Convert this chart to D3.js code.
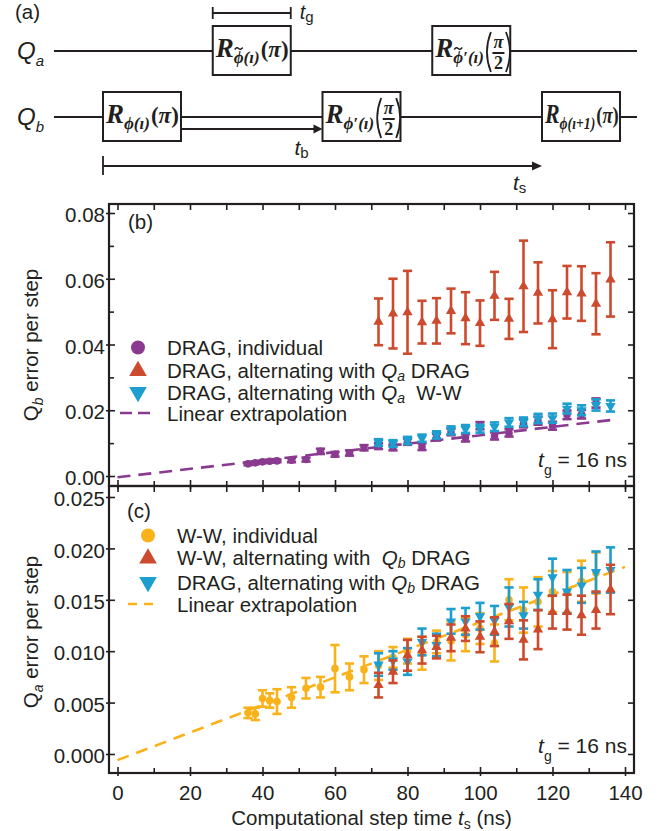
<!DOCTYPE html>
<html>
<head>
<meta charset="utf-8">
<script src="https://cdn.jsdelivr.net/npm/d3@7"></script>
<style>
  body { margin: 0; background: #fff; }
  svg { display: block; background: #fff; }
</style>
</head>
<body>
<svg id="fig" width="670" height="831"></svg>
<script>
// ---------------- data ----------------
// computational step times (ns)
const stepIndividual  = [36, 38, 40, 42, 44, 48, 52, 56, 60, 64, 68, 72, 76, 80, 84, 88, 92, 96, 100, 104, 108, 112, 116, 120, 124, 128, 132];
const stepAlternating = [72, 76, 80, 84, 88, 92, 96, 100, 104, 108, 112, 116, 120, 124, 128, 132, 136];

// (b) Q_b error per step
const qbDragIndividual    = [0.0037, 0.0040, 0.0043, 0.0045, 0.0046, 0.0048, 0.0050, 0.0075, 0.0066, 0.0070, 0.0086, 0.0091, 0.0087, 0.0104, 0.0089, 0.0118, 0.0134, 0.0116, 0.0153, 0.0122, 0.0131, 0.0160, 0.0168, 0.0153, 0.0186, 0.0188, 0.0222];
const qbDragIndividualErr = [0.0004, 0.0004, 0.0004, 0.0004, 0.0004, 0.0006, 0.0006, 0.0008, 0.0007, 0.0008, 0.0008, 0.0009, 0.0009, 0.0009, 0.0010, 0.0010, 0.0010, 0.0011, 0.0011, 0.0011, 0.0011, 0.0012, 0.0012, 0.0012, 0.0013, 0.0013, 0.0014];
const qbAltQaDrag    = [0.0469, 0.0494, 0.0498, 0.0468, 0.0472, 0.0502, 0.0480, 0.0465, 0.0548, 0.0478, 0.0577, 0.0557, 0.0477, 0.0559, 0.0555, 0.0524, 0.0598];
const qbAltQaDragErr = [0.0071, 0.0106, 0.0126, 0.0065, 0.0069, 0.0068, 0.0079, 0.0069, 0.0073, 0.0061, 0.0139, 0.0093, 0.0088, 0.0080, 0.0083, 0.0093, 0.0113];
const qbAltQaWW      = [0.0102, 0.0099, 0.0108, 0.0115, 0.0125, 0.0139, 0.0143, 0.0144, 0.0150, 0.0163, 0.0165, 0.0175, 0.0176, 0.0205, 0.0200, 0.0216, 0.0213];
const qbAltQaWWErr   = [0.0010, 0.0010, 0.0011, 0.0011, 0.0011, 0.0012, 0.0012, 0.0012, 0.0013, 0.0013, 0.0013, 0.0014, 0.0014, 0.0015, 0.0015, 0.0017, 0.0017];
const qbFitStep  = [0, 136];
const qbFitValue = [-0.0004, 0.0170];

// (c) Q_a error per step
const qaWWIndividual    = [0.0040, 0.0039, 0.0054, 0.0052, 0.0051, 0.0055, 0.0064, 0.0065, 0.0083, 0.0075, 0.0082, 0.0086, 0.0094, 0.0100, 0.0098, 0.0109, 0.0110, 0.0116, 0.0122, 0.0108, 0.0150, 0.0140, 0.0148, 0.0158, 0.0157, 0.0168, 0.0176];
const qaWWIndividualErr = [0.0005, 0.0006, 0.0008, 0.0007, 0.0012, 0.0010, 0.0010, 0.0010, 0.0023, 0.0013, 0.0013, 0.0014, 0.0010, 0.0012, 0.0016, 0.0011, 0.0019, 0.0016, 0.0015, 0.0018, 0.0020, 0.0022, 0.0024, 0.0020, 0.0020, 0.0020, 0.0020];
const qaWWAltQbDrag      = [0.0067, 0.0080, 0.0096, 0.0101, 0.0104, 0.0113, 0.0122, 0.0114, 0.0119, 0.0129, 0.0111, 0.0121, 0.0138, 0.0138, 0.0135, 0.0140, 0.0160];
const qaWWAltQbDragErr   = [0.0012, 0.0011, 0.0015, 0.0013, 0.0011, 0.0013, 0.0012, 0.0015, 0.0014, 0.0017, 0.0019, 0.0019, 0.0016, 0.0017, 0.0019, 0.0018, 0.0024];
const qaDragAltQbDrag    = [0.0087, 0.0091, 0.0090, 0.0109, 0.0106, 0.0129, 0.0129, 0.0134, 0.0130, 0.0143, 0.0135, 0.0155, 0.0172, 0.0158, 0.0164, 0.0177, 0.0179];
const qaDragAltQbDragErr = [0.0011, 0.0009, 0.0013, 0.0013, 0.0011, 0.0012, 0.0013, 0.0013, 0.0014, 0.0019, 0.0013, 0.0015, 0.0018, 0.0021, 0.0017, 0.0020, 0.0022];
const qaFitStep  = [0, 140];
const qaFitValue = [-0.0006, 0.0182];

// axis ticks
const xMajorTicks = [0, 20, 40, 60, 80, 100, 120, 140];
const xMinorTicks = [10, 30, 50, 70, 90, 110, 130];
const yTicksB      = [0, 0.02, 0.04, 0.06, 0.08];
const yMinorTicksB = [0.01, 0.03, 0.05, 0.07];
const yTicksC      = [0, 0.005, 0.01, 0.015, 0.02, 0.025];

// pulse sequence of panel (a): gate slots on each qubit line
const gateWire  = ["b", "a", "b", "a", "b"];
const gateSlot  = [0, 1, 2, 3, 4];
const gateSub   = ["\u03D5(\u0131)", "\u03D5(\u0131)", "\u03D5\u2032(\u0131)", "\u03D5\u2032(\u0131)", "\u03D5(\u0131+1)"];
const gateTilde = [false, true, false, true, false];
const gateAngle = ["pi", "pi", "half", "half", "pi"];

// ---------------- drawing ----------------
const INK = "#231f20";
const PURPLE = "#8b3b8f", RED = "#cc4a2d", BLUE = "#1c9ece", YELLOW = "#fab21a";
const SANS = '"Liberation Sans", Arial, Helvetica, sans-serif';
const SERIF = '"Liberation Serif", "Times New Roman", serif';
const svg = d3.select("#fig");

const PLOT_L = 109, PLOT_R = 634;
const panelB = { top: 204, bottom: 486 };
const panelC = { top: 486, bottom: 773 };

const x  = d3.scaleLinear().domain([-2.345, 142.48]).range([PLOT_L, PLOT_R]);
const yB = d3.scaleLinear().domain([-0.00304, 0.08274]).range([panelB.bottom, panelB.top]);
const yC = d3.scaleLinear().domain([-0.00185, 0.02607]).range([panelC.bottom, panelC.top]);

// text with italic / subscript runs
function rich(parent, px, py, parts, size, anchor) {
  const t = parent.append("text").attr("x", px).attr("y", py)
    .attr("fill", INK).style("font-family", SANS).style("font-size", size + "px")
    .attr("text-anchor", anchor || "start");
  let shift = 0;
  parts.forEach(p => {
    const s = t.append("tspan").text(p.t);
    const target = p.sub ? p.sub : 0;
    if (target !== shift) { s.attr("dy", target - shift); shift = target; }
    if (p.sub) s.style("font-size", (p.size || Math.round(size * 0.66)) + "px");
    if (p.it) s.style("font-style", "italic");
  });
  return t;
}

function styleAxis(sel) {
  sel.select(".domain").remove();
  sel.selectAll("line").attr("stroke", INK).attr("stroke-width", 1.6);
  sel.selectAll("text").attr("fill", INK).style("font-family", SANS).style("font-size", "20.5px");
}

function drawFrame(panel, y, yMajor, yMinor, yFmt, xLabels) {
  const g = svg.append("g");
  // left: labelled inward ticks + short outward stubs
  g.append("g").attr("transform", `translate(${PLOT_L},0)`)
    .call(d3.axisLeft(y).tickValues(yMajor).tickFormat(yFmt).tickSizeInner(-6).tickSizeOuter(0).tickPadding(4))
    .call(styleAxis).selectAll("text").attr("dy", "0.42em");
  g.append("g").attr("transform", `translate(${PLOT_L},0)`)
    .call(d3.axisLeft(y).tickValues(yMajor).tickFormat("").tickSizeInner(3).tickSizeOuter(0)).call(styleAxis);
  if (yMinor.length) {
    g.append("g").attr("transform", `translate(${PLOT_L},0)`)
      .call(d3.axisLeft(y).tickValues(yMinor).tickFormat("").tickSizeInner(-5).tickSizeOuter(0)).call(styleAxis);
  }
  // right
  g.append("g").attr("transform", `translate(${PLOT_R},0)`)
    .call(d3.axisRight(y).tickValues(yMajor.concat(yMinor)).tickFormat("").tickSizeInner(-6).tickSizeOuter(0)).call(styleAxis);
  // top
  g.append("g").attr("transform", `translate(0,${panel.top})`)
    .call(d3.axisTop(x).tickValues(xMajorTicks.concat(xMinorTicks)).tickFormat("").tickSizeInner(-6).tickSizeOuter(0)).call(styleAxis);
  // bottom
  g.append("g").attr("transform", `translate(0,${panel.bottom})`)
    .call(d3.axisBottom(x).tickValues(xMajorTicks).tickFormat(xLabels ? d3.format("d") : "").tickSizeInner(-6).tickSizeOuter(0).tickPadding(12))
    .call(styleAxis);
  g.append("g").attr("transform", `translate(0,${panel.bottom})`)
    .call(d3.axisBottom(x).tickValues(xMajorTicks).tickFormat("").tickSizeInner(3).tickSizeOuter(0)).call(styleAxis);
  g.append("g").attr("transform", `translate(0,${panel.bottom})`)
    .call(d3.axisBottom(x).tickValues(xMinorTicks).tickFormat("").tickSizeInner(-5).tickSizeOuter(0)).call(styleAxis);
  g.append("rect").attr("x", PLOT_L).attr("y", panel.top)
    .attr("width", PLOT_R - PLOT_L).attr("height", panel.bottom - panel.top)
    .attr("fill", "none").attr("stroke", INK).attr("stroke-width", 2.2);
}

const triUp = d3.symbol().type(d3.symbolTriangle);

function errorSeries(y, steps, vals, errs, color, shape) {
  const rows = d3.zip(steps, vals, errs);
  const g = svg.append("g").attr("stroke", color).attr("fill", color);
  const pt = g.selectAll("g").data(rows).join("g");
  const cap = 4.6;
  pt.append("line").attr("x1", d => x(d[0])).attr("x2", d => x(d[0]))
    .attr("y1", d => y(d[1] - d[2])).attr("y2", d => y(d[1] + d[2])).attr("stroke-width", 2.6);
  [-1, 1].forEach(sgn => {
    pt.append("line").attr("x1", d => x(d[0]) - cap).attr("x2", d => x(d[0]) + cap)
      .attr("y1", d => y(d[1] + sgn * d[2])).attr("y2", d => y(d[1] + sgn * d[2])).attr("stroke-width", 2.6);
  });
  if (shape === "circle") {
    pt.append("circle").attr("cx", d => x(d[0])).attr("cy", d => y(d[1])).attr("r", 3.8).attr("stroke", "none");
  } else {
    pt.append("path").attr("d", triUp.size(46)()).attr("stroke", "none")
      .attr("transform", d => `translate(${x(d[0])},${y(d[1])})` + (shape === "down" ? " rotate(180)" : ""));
  }
}

function fitLine(y, steps, vals, color, dash) {
  svg.append("path").datum(d3.zip(steps, vals))
    .attr("d", d3.line().x(d => x(d[0])).y(d => y(d[1])))
    .attr("fill", "none").attr("stroke", color).attr("stroke-width", 2.6).attr("stroke-dasharray", dash);
}

function legendMarker(mx, my, shape, color) {
  if (shape === "circle") {
    svg.append("circle").attr("cx", mx).attr("cy", my).attr("r", 7).attr("fill", color);
  } else {
    svg.append("path").attr("d", triUp.size(135)()).attr("fill", color)
      .attr("transform", `translate(${mx},${my})` + (shape === "down" ? " rotate(180)" : ""));
  }
}

// ---- panel (b) ----
drawFrame(panelB, yB, yTicksB, yMinorTicksB, d3.format(".2f"), false);
fitLine(yB, qbFitStep, qbFitValue, PURPLE, "13,8");
errorSeries(yB, stepAlternating, qbAltQaDrag, qbAltQaDragErr, RED, "up");
errorSeries(yB, stepIndividual, qbDragIndividual, qbDragIndividualErr, PURPLE, "circle");
errorSeries(yB, stepAlternating, qbAltQaWW, qbAltQaWWErr, BLUE, "down");

rich(svg, 128, 229, [{ t: "(b)" }], 20.5);
legendMarker(138, 347.5, "circle", PURPLE);
legendMarker(138, 371, "up", RED);
legendMarker(138, 392, "down", BLUE);
svg.append("line").attr("x1", 120).attr("x2", 150).attr("y1", 413).attr("y2", 413)
  .attr("stroke", PURPLE).attr("stroke-width", 2.6).attr("stroke-dasharray", "12,6");
rich(svg, 167, 355, [{ t: "DRAG, individual" }], 20.5);
rich(svg, 167, 378, [{ t: "DRAG, alternating with " }, { t: "Q", it: true }, { t: "a", it: true, sub: 3, size: 14 }, { t: " DRAG" }], 20.5);
rich(svg, 167, 400, [{ t: "DRAG, alternating with " }, { t: "Q", it: true }, { t: "a", it: true, sub: 3, size: 14 }, { t: "\u00a0 W-W" }], 20.5);
rich(svg, 167, 421, [{ t: "Linear extrapolation" }], 20.5);
rich(svg, 627, 467, [{ t: "t", it: true }, { t: "g", sub: 8, size: 14 }, { t: " = 16 ns" }], 21, "end");

const yTitleB = svg.append("g").attr("transform", "translate(38,345) rotate(-90)");
rich(yTitleB, 0, 0, [{ t: "Q" }, { t: "b", it: true, sub: 5 }, { t: " error per step" }], 20.5, "middle");

// ---- panel (c) ----
drawFrame(panelC, yC, yTicksC, [], d3.format(".3f"), true);
errorSeries(yC, stepIndividual, qaWWIndividual, qaWWIndividualErr, YELLOW, "circle");
fitLine(yC, qaFitStep, qaFitValue, YELLOW, "12,8");
errorSeries(yC, stepAlternating, qaDragAltQbDrag, qaDragAltQbDragErr, BLUE, "down");
errorSeries(yC, stepAlternating, qaWWAltQbDrag, qaWWAltQbDragErr, RED, "up");

rich(svg, 127, 518, [{ t: "(c)" }], 20.5);
legendMarker(148, 535.5, "circle", YELLOW);
legendMarker(148, 558.5, "up", RED);
legendMarker(148, 582, "down", BLUE);
svg.append("line").attr("x1", 128).attr("x2", 153).attr("y1", 604).attr("y2", 604)
  .attr("stroke", YELLOW).attr("stroke-width", 2.6).attr("stroke-dasharray", "9,7");
rich(svg, 177, 543, [{ t: "W-W, individual" }], 20.5);
rich(svg, 177, 565, [{ t: "W-W, alternating with\u00a0 " }, { t: "Q", it: true }, { t: "b", it: true, sub: 3, size: 14 }, { t: " DRAG" }], 20.5);
rich(svg, 177, 590, [{ t: "DRAG, alternating with " }, { t: "Q", it: true }, { t: "b", it: true, sub: 3, size: 14 }, { t: " DRAG" }], 20.5);
rich(svg, 177, 612, [{ t: "Linear extrapolation" }], 20.5);
rich(svg, 627, 753, [{ t: "t", it: true }, { t: "g", sub: 8, size: 14 }, { t: " = 16 ns" }], 21, "end");

const yTitleC = svg.append("g").attr("transform", "translate(38,632) rotate(-90)");
rich(yTitleC, 0, 0, [{ t: "Q" }, { t: "a", it: true, sub: 5 }, { t: " error per step" }], 20.5, "middle");

rich(svg, (PLOT_L + PLOT_R) / 2, 825, [{ t: "Computational step time " }, { t: "t", it: true }, { t: "s", sub: 4, size: 14 }, { t: " (ns)" }], 20.5, "middle");

// ---- panel (a): pulse sequence ----
const dg = svg.append("g");
const slotX = d3.scaleLinear().domain([0, 4]).range([103, 542]);
const wireY = { a: 51, b: 117 };
const GATE_W = 78, GATE_H = 49;
const WIRE_L = 54, WIRE_R = 637;

rich(dg, 15, 19, [{ t: "(a)" }], 20.5);
rich(dg, 17, wireY.a + 8, [{ t: "Q", it: true }, { t: "a", it: true, sub: 7, size: 15 }], 24);
rich(dg, 17, wireY.b + 8, [{ t: "Q", it: true }, { t: "b", it: true, sub: 7, size: 15 }], 24);

["a", "b"].forEach(w => dg.append("line").attr("x1", WIRE_L).attr("x2", WIRE_R)
  .attr("y1", wireY[w]).attr("y2", wireY[w]).attr("stroke", INK).attr("stroke-width", 2));

gateSlot.forEach((slot, i) => {
  const bx = slotX(slot), by = wireY[gateWire[i]] - 25;
  dg.append("rect").attr("x", bx).attr("y", by).attr("width", GATE_W).attr("height", GATE_H)
    .attr("fill", "#fff").attr("stroke", INK).attr("stroke-width", 2);
  const tx = bx + 3, ty = by + 31;
  const t = dg.append("text").attr("x", tx).attr("y", ty).attr("fill", INK)
    .style("font-family", SERIF).style("font-weight", "bold").style("font-style", "italic");
  t.append("tspan").style("font-size", "27px").text("R");
  t.append("tspan").attr("dy", 6).style("font-size", "17px").text(gateSub[i]);
  if (gateAngle[i] === "pi") {
    t.append("tspan").attr("dy", -6).attr("dx", 1).style("font-size", "23px").style("font-style", "normal").text("(");
    t.append("tspan").style("font-size", "23px").text("\u03C0");
    t.append("tspan").style("font-size", "23px").style("font-style", "normal").text(")");
    const w = t.node().getComputedTextLength();
    const room = GATE_W - 5;
    if (w > room) {
      // squeeze horizontally to keep the label inside its box
      const k = room / w;
      t.attr("transform", `translate(${tx},0) scale(${k},1) translate(${-tx},0)`);
    }
  } else {
    const bb = t.node().getBBox();
    const x0 = bb.x + bb.width + 1;
    const top = by + 6, bot = by + 46, mid = (top + bot) / 2;
    dg.append("path").attr("d", `M${x0 + 6},${top} Q${x0 - 2},${mid} ${x0 + 6},${bot}`)
      .attr("fill", "none").attr("stroke", INK).attr("stroke-width", 1.8);
    const fx = x0 + 13.5;
    dg.append("text").attr("x", fx).attr("y", by + 22).attr("text-anchor", "middle").attr("fill", INK)
      .style("font-family", SERIF).style("font-weight", "bold").style("font-style", "italic").style("font-size", "18px").text("\u03C0");
    dg.append("line").attr("x1", fx - 6).attr("x2", fx + 6).attr("y1", by + 27).attr("y2", by + 27)
      .attr("stroke", INK).attr("stroke-width", 2);
    dg.append("text").attr("x", fx).attr("y", by + 43).attr("text-anchor", "middle").attr("fill", INK)
      .style("font-family", SERIF).style("font-weight", "bold").style("font-size", "18px").text("2");
    dg.append("path").attr("d", `M${x0 + 21},${top} Q${x0 + 29},${mid} ${x0 + 21},${bot}`)
      .attr("fill", "none").attr("stroke", INK).attr("stroke-width", 1.8);
  }
  if (gateTilde[i]) {
    // tilde accent over the phase symbol
    const ext = t.node().getExtentOfChar(1);
    const cx = ext.x + ext.width / 2, ay = by + 22.5;
    dg.append("path")
      .attr("d", `M${cx - 4},${ay + 1} Q${cx - 2},${ay - 2} ${cx},${ay} Q${cx + 2},${ay + 2} ${cx + 4},${ay - 1}`)
      .attr("fill", "none").attr("stroke", INK).attr("stroke-width", 1.4);
  }
});

// t_g bracket over the first Q_a gate
const g1 = slotX(1);
dg.append("path").attr("d", `M${g1},7 V19 M${g1},13 H${g1 + GATE_W} M${g1 + GATE_W},7 V19`)
  .attr("fill", "none").attr("stroke", INK).attr("stroke-width", 1.8);
rich(dg, g1 + GATE_W + 9, 19, [{ t: "t", it: true }, { t: "g", sub: 3, size: 15 }], 20);

// t_b arrow between the Q_b gates
const b0 = slotX(0) + GATE_W, b1 = slotX(2);
dg.append("line").attr("x1", b0).attr("x2", b1 - 7).attr("y1", 129).attr("y2", 129).attr("stroke", INK).attr("stroke-width", 1.8);
dg.append("path").attr("d", `M${b1},129 L${b1 - 9},124.5 L${b1 - 9},133.5 Z`).attr("fill", INK);
rich(dg, b1 - 28, 155, [{ t: "t", it: true }, { t: "b", sub: 3, size: 15 }], 21);

// t_s arrow across one full step
const s0 = slotX(0), s1 = slotX(4);
dg.append("line").attr("x1", s0).attr("x2", s0).attr("y1", 156).attr("y2", 175).attr("stroke", INK).attr("stroke-width", 1.8);
dg.append("line").attr("x1", s0).attr("x2", s1 - 7).attr("y1", 166).attr("y2", 166).attr("stroke", INK).attr("stroke-width", 1.8);
dg.append("path").attr("d", `M${s1},166 L${s1 - 10},161.5 L${s1 - 10},170.5 Z`).attr("fill", INK);
rich(dg, s1 - 29, 190, [{ t: "t", it: true }, { t: "s", sub: 3, size: 15 }], 21);
</script>
</body>
</html>
